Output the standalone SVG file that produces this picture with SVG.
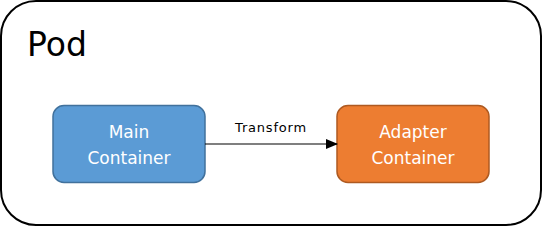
<svg xmlns="http://www.w3.org/2000/svg" width="542" height="227" viewBox="0 0 542 227">
<style>
.lbl{font-family:"DejaVu Sans","Liberation Sans",sans-serif;}
.box text{fill:#ffffff;font-size:17px;text-anchor:middle;}
</style>
<defs>
<marker id="ah" markerWidth="12" markerHeight="10" refX="11" refY="5" orient="auto" markerUnits="userSpaceOnUse">
<path d="M0,0 L12,5 L0,10 Z" fill="#000"/>
</marker>
</defs>
<g id="pod">
<rect x="1" y="1" width="540" height="224" rx="35" ry="35" fill="#fff" stroke="#000" stroke-width="2"/>
<text class="lbl" x="27" y="56" font-size="33" fill="#000">Pod</text>
</g>
<g id="main" class="box">
<rect x="53" y="105.5" width="152" height="77" rx="11" fill="#5b9bd5" stroke="#41719c" stroke-width="1.5"/>
<text class="lbl" x="129" y="138">Main</text>
<text class="lbl" x="129" y="164">Container</text>
</g>
<g id="adapter" class="box">
<rect x="337" y="105.5" width="152" height="77" rx="11" fill="#ed7d31" stroke="#ae5a21" stroke-width="1.5"/>
<text class="lbl" x="413" y="138">Adapter</text>
<text class="lbl" x="413" y="164">Container</text>
</g>
<g id="connectors">
<line x1="205" y1="144" x2="337" y2="144" stroke="#000" stroke-width="1.2" marker-end="url(#ah)"/>
<text class="lbl" x="271" y="132" font-size="13" letter-spacing="0.8" text-anchor="middle" fill="#000">Transform</text>
</g>
</svg>
